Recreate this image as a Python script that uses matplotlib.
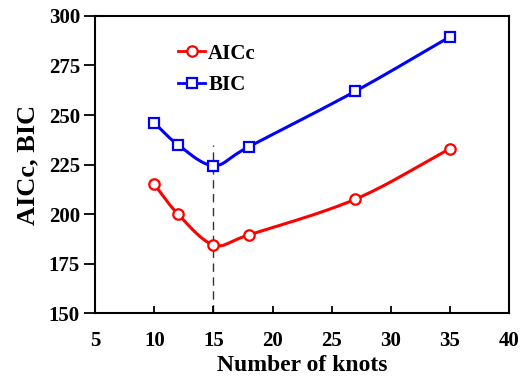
import numpy as np
import matplotlib
matplotlib.use("Agg")
import matplotlib.pyplot as plt
from matplotlib.lines import Line2D

knots = [10, 12, 15, 18, 27, 35]
aicc = [215.0, 200.0, 184.5, 189.5, 207.5, 233.0]
bic = [246.0, 235.0, 224.5, 234.0, 262.0, 289.5]
best_knots = 15
dash_top = 235

x_ticks = [5, 10, 15, 20, 25, 30, 35, 40]
y_ticks = [150, 175, 200, 225, 250, 275, 300]

plt.rcParams['font.family'] = ['Liberation Serif', 'DejaVu Serif']
plt.rcParams['font.weight'] = 'bold'


def smooth(x, y, n=30):
    # Catmull-Rom curve through the points, like a spreadsheet "smoothed line"
    x = np.asarray(x, float)
    y = np.asarray(y, float)
    px = np.concatenate([[2 * x[0] - x[1]], x, [2 * x[-1] - x[-2]]])
    py = np.concatenate([[2 * y[0] - y[1]], y, [2 * y[-1] - y[-2]]])
    xs, ys = [], []
    t = np.linspace(0, 1, n)
    for i in range(1, len(px) - 2):
        for p, out in ((px, xs), (py, ys)):
            p0, p1, p2, p3 = p[i - 1], p[i], p[i + 1], p[i + 2]
            out.append(0.5 * (2 * p1 + (-p0 + p2) * t
                              + (2 * p0 - 5 * p1 + 4 * p2 - p3) * t ** 2
                              + (-p0 + 3 * p1 - 3 * p2 + p3) * t ** 3))
    return np.concatenate(xs), np.concatenate(ys)


fig = plt.figure(figsize=(5.2, 3.8), dpi=100)
ax = fig.add_axes([0.183, 0.176, 0.796, 0.782])

ax.plot([best_knots, best_knots], [150, dash_top], color='#333333', lw=1.0,
        ls=(0, (6, 4)), zorder=1)

for vals, col, mk in ((aicc, '#ff0000', 'o'), (bic, '#0000ff', 's')):
    sx, sy = smooth(knots, vals)
    ax.plot(sx, sy, color=col, lw=2.2, zorder=2)
    ax.plot(knots, vals, ls='none', marker=mk, ms=7.5, mfc='white', mec=col,
            mew=1.6, zorder=3)

ax.set_xlim(5, 40)
ax.set_ylim(150, 300)
ax.set_xticks(x_ticks)
ax.set_yticks(y_ticks)
ax.tick_params(axis='x', direction='in', length=5, width=1.3, pad=13,
               labelsize=15)
ax.tick_params(axis='y', direction='out', length=8, width=1.3, pad=3,
               labelsize=15)
for lab in ax.get_xticklabels() + ax.get_yticklabels():
    lab.set_fontweight('bold')
for s in ax.spines.values():
    s.set_linewidth(1.5)

ax.set_xlabel('Number of knots', fontsize=17, fontweight='bold', labelpad=3)
ax.set_ylabel('AICc, BIC', fontsize=19, fontweight='bold', labelpad=7)

handles = [
    Line2D([], [], color='#ff0000', lw=2, marker='o', ms=7.5, mfc='white',
           mec='#ff0000', mew=1.6, label='AICc'),
    Line2D([], [], color='#0000ff', lw=2, marker='s', ms=7.5, mfc='white',
           mec='#0000ff', mew=1.6, label='BIC'),
]
leg = ax.legend(handles=handles, loc='upper left', bbox_to_anchor=(0.155, 0.97),
                frameon=False, handlelength=1.3, handletextpad=0.15,
                labelspacing=0.55, prop={'size': 15, 'weight': 'bold'})

fig.savefig('out.png', dpi=100)
